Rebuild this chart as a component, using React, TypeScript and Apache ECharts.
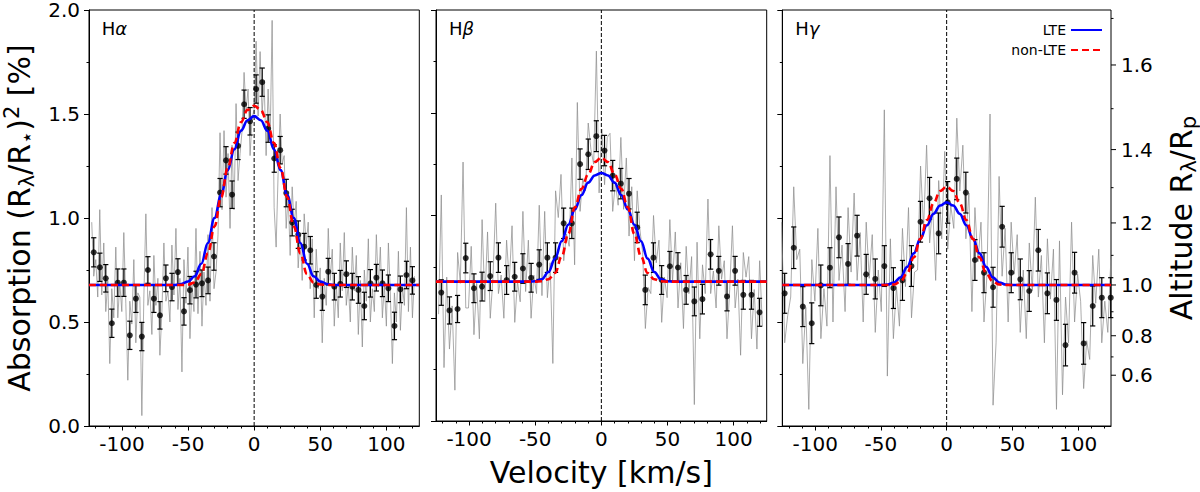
import React, { useEffect, useRef } from 'react';
import * as echarts from 'echarts';

// binned points (velocity km/s, absorption %, 1-sigma)
const binV1 = [-121.4, -116.8, -112.3, -107.7, -103.2, -98.6, -94.1, -89.5, -85.0, -80.4, -75.9, -71.3, -66.8, -62.2, -57.7, -53.1, -48.6, -44.0, -39.5, -34.9, -30.4, -25.8, -21.3, -16.7, -12.2, -7.6, -3.1, 1.5, 6.1, 10.6, 15.2, 19.7, 24.3, 28.8, 33.4, 37.9, 42.5, 47.0, 51.6, 56.1, 60.7, 65.2, 69.8, 74.3, 78.9, 83.4, 88.0, 92.5, 97.1, 101.6, 106.2, 110.7, 115.3, 119.8];
const binY1 = [0.835, 0.763, 0.71, 0.494, 0.689, 0.689, 0.436, 0.612, 0.43, 0.75, 0.612, 0.532, 0.71, 0.668, 0.74, 0.551, 0.653, 0.68, 0.686, 0.70, 0.815, 1.122, 1.277, 1.112, 1.347, 1.547, 1.465, 1.62, 1.653, 1.43, 1.286, 1.326, 1.12, 0.978, 0.92, 0.862, 0.845, 0.678, 0.622, 0.742, 0.67, 0.684, 0.73, 0.67, 0.654, 0.577, 0.686, 0.713, 0.686, 0.662, 0.481, 0.657, 0.726, 0.70];
const binE1 = [0.070, 0.068, 0.066, 0.068, 0.066, 0.066, 0.068, 0.066, 0.068, 0.064, 0.066, 0.066, 0.064, 0.066, 0.064, 0.066, 0.066, 0.064, 0.064, 0.064, 0.066, 0.068, 0.066, 0.066, 0.066, 0.068, 0.066, 0.068, 0.068, 0.066, 0.066, 0.066, 0.066, 0.064, 0.066, 0.064, 0.066, 0.064, 0.066, 0.064, 0.064, 0.064, 0.064, 0.064, 0.064, 0.066, 0.066, 0.064, 0.064, 0.064, 0.066, 0.064, 0.066, 0.066];

const binV2 = [-121.0, -114.8, -108.7, -102.5, -96.3, -90.2, -84.0, -77.8, -71.6, -65.5, -59.3, -53.1, -47.0, -40.8, -34.6, -28.5, -22.3, -16.1, -9.9, -3.8, 2.4, 8.6, 14.7, 20.9, 27.1, 33.2, 39.4, 45.6, 51.8, 57.9, 64.1, 70.3, 76.4, 82.6, 88.8, 95.0, 101.1, 107.3, 113.5, 119.6];
const binY2 = [0.625, 0.538, 0.545, 0.793, 0.646, 0.654, 0.705, 0.795, 0.686, 0.702, 0.742, 0.697, 0.761, 0.795, 0.795, 0.962, 0.962, 1.25, 1.298, 1.386, 1.316, 1.194, 1.155, 1.106, 0.942, 0.638, 0.795, 0.686, 0.753, 0.747, 0.638, 0.582, 0.593, 0.811, 0.731, 0.606, 0.731, 0.614, 0.614, 0.529];
const binE2 = [0.062, 0.066, 0.066, 0.072, 0.070, 0.070, 0.070, 0.072, 0.070, 0.070, 0.072, 0.070, 0.072, 0.072, 0.072, 0.074, 0.074, 0.074, 0.074, 0.075, 0.074, 0.074, 0.074, 0.074, 0.074, 0.072, 0.072, 0.070, 0.072, 0.072, 0.070, 0.070, 0.072, 0.072, 0.070, 0.070, 0.070, 0.070, 0.070, 0.068];

const binV3 = [-123.2, -116.3, -109.4, -102.6, -95.7, -88.8, -81.9, -75.0, -68.1, -61.2, -54.3, -47.4, -40.5, -33.6, -26.8, -19.9, -13.0, -6.1, 0.8, 7.7, 14.6, 21.5, 28.4, 35.3, 42.2, 49.1, 56.0, 62.8, 69.7, 76.6, 83.5, 90.4, 97.3, 104.2, 111.1, 118.0, 124.8];
const binY3 = [0.638, 0.857, 0.574, 0.494, 0.676, 0.761, 0.907, 0.779, 0.915, 0.729, 0.707, 0.769, 0.663, 0.70, 0.769, 0.982, 1.095, 0.926, 1.075, 1.188, 1.122, 0.798, 0.737, 0.667, 0.958, 0.737, 0.705, 0.649, 0.845, 0.638, 0.606, 0.389, 0.737, 0.397, 0.577, 0.617, 0.617];
const binE3 = [0.096, 0.100, 0.096, 0.098, 0.098, 0.096, 0.098, 0.098, 0.098, 0.096, 0.096, 0.098, 0.098, 0.096, 0.098, 0.098, 0.100, 0.098, 0.100, 0.100, 0.098, 0.098, 0.096, 0.096, 0.098, 0.096, 0.098, 0.098, 0.100, 0.098, 0.098, 0.100, 0.098, 0.100, 0.096, 0.096, 0.096];

// full-resolution spectra (grey), sampled on a regular velocity grid
const grayStart = [-122.92, -123.06, -125.5];
const grayStep = [1.517, 2.057, 2.297];
const gray1 = [
  0.98, 0.72, 0.80, 0.62, 1.04, 0.63, 0.88, 0.55, 0.70, 0.30, 0.66, 0.52, 0.86, 0.52, 0.69, 0.55, 0.93, 0.59,
  0.22, 0.60, 0.49, 0.80, 0.40, 0.64, 0.62, 0.05, 0.62, 1.02, 0.58, 0.65, 0.44, 0.82, 0.58, 0.71, 0.34, 0.55,
  0.88, 0.60, 0.65, 0.50, 0.87, 0.63, 0.95, 0.56, 0.71, 0.26, 0.80, 0.59, 0.86, 0.42, 0.68, 0.55, 0.95, 0.54,
  0.84, 0.48, 0.74, 0.58, 0.92, 0.60, 1.05, 0.66, 0.74, 0.92, 1.41, 1.04, 1.42, 1.10, 1.31, 0.95, 1.35, 1.04,
  1.55, 1.18, 1.31, 1.42, 1.70, 1.52, 1.62, 1.30, 1.48, 1.52, 1.85, 1.49, 1.80, 1.50, 1.66, 1.30, 1.62, 1.37,
  1.95, 1.05, 0.86, 1.22, 1.50, 1.26, 1.30, 0.95, 1.11, 0.82, 1.15, 0.96, 1.08, 0.76, 0.92, 0.70, 1.02, 0.87,
  0.98, 0.66, 0.90, 0.52, 0.85, 0.66, 0.76, 0.40, 0.71, 0.58, 0.95, 0.70, 0.85, 0.48, 0.68, 0.52, 0.88, 0.65,
  0.93, 0.58, 0.68, 0.50, 0.86, 0.65, 0.82, 0.44, 0.70, 0.38, 0.75, 0.60, 0.90, 0.50, 0.66, 0.55, 0.92, 0.67,
  0.86, 0.52, 0.68, 0.48, 0.88, 0.63, 0.30, 0.64, 0.50, 0.84, 0.46, 0.67, 0.58, 1.05, 0.55, 0.86, 0.52, 0.72,
];
const gray2 = [
  0.52, 1.10, 0.26, 0.70, 0.35, 0.56, 0.15, 0.82, 0.67, 1.26, 0.55, 0.55, 0.85, 0.42, 0.67, 0.40, 0.98, 0.58,
  0.92, 0.50, 0.70, 1.06, 0.62, 0.71, 0.50, 0.88, 0.68, 0.95, 0.48, 0.68, 0.58, 1.02, 0.63, 0.88, 0.50, 0.71,
  0.62, 1.05, 0.61, 1.02, 0.60, 0.77, 0.28, 1.12, 0.99, 1.20, 0.78, 0.91, 0.85, 1.28, 0.76, 1.55, 1.02, 1.18,
  1.12, 1.45, 1.32, 1.25, 1.80, 1.11, 1.42, 1.15, 1.38, 1.40, 1.02, 1.16, 1.05, 1.38, 1.03, 1.28, 0.90, 1.14,
  0.78, 1.12, 0.93, 0.82, 0.45, 0.65, 0.62, 1.00, 0.77, 0.88, 0.48, 0.70, 0.60, 0.98, 0.68, 0.92, 0.55, 0.77,
  0.45, 0.85, 0.62, 0.80, 0.08, 0.87, 0.40, 0.76, 0.62, 1.08, 0.62, 0.73, 0.55, 0.95, 0.69, 0.78, 0.40, 0.64,
  0.95, 0.55, 0.69, 0.32, 0.82, 0.70, 0.80, 0.40, 0.64, 0.35, 0.78, 0.46,
];
const gray3 = [
  0.98, 0.40, 0.53, 0.62, 1.15, 0.80, 0.85, 0.30, 0.57, 0.08, 0.80, 0.60, 0.95, 0.42, 0.66, 0.48, 1.30, 0.50,
  1.15, 0.70, 0.87, 0.55, 1.05, 0.74, 1.12, 0.70, 0.93, 0.50, 0.98, 0.71, 0.92, 0.45, 0.75, 0.55, 1.52, 0.24,
  0.90, 0.42, 0.67, 0.48, 0.95, 0.67, 1.05, 0.52, 0.74, 0.75, 1.25, 0.95, 1.35, 0.88, 1.06, 0.70, 1.18, 0.90,
  1.32, 0.85, 1.06, 0.95, 1.48, 1.13, 1.35, 0.90, 1.12, 0.55, 1.05, 0.79, 0.98, 0.50, 0.73, 1.50, 0.10, 0.40,
  1.20, 0.72, 0.95, 0.50, 0.98, 0.73, 0.92, 0.45, 0.75, 0.42, 0.88, 0.65, 1.10, 0.62, 0.82, 0.40, 0.90, 0.61,
  0.85, 0.08, 0.89, 0.15, 0.62, 0.40, 0.98, 0.50, 0.73, 0.60, 0.18, 0.41, 0.32, 0.82, 0.59, 0.85, 0.40, 0.60,
  0.45, 0.80, 0.60,
];

// model curves
const curveV = [-125, -60, -55, -50, -45, -40, -35, -30, -25, -20, -15, -10, -5, 0, 5, 10, 15, 20, 25, 30, 35, 40, 45, 50, 55, 60, 125];
const lte1 = [0.678, 0.678, 0.683, 0.695, 0.72, 0.78, 0.88, 1.00, 1.11, 1.23, 1.33, 1.42, 1.47, 1.49, 1.47, 1.42, 1.33, 1.23, 1.11, 1.00, 0.88, 0.78, 0.72, 0.695, 0.683, 0.678, 0.678];
const nlte1 = [0.678, 0.678, 0.678, 0.68, 0.69, 0.73, 0.83, 0.96, 1.10, 1.24, 1.36, 1.46, 1.52, 1.54, 1.52, 1.46, 1.36, 1.24, 1.10, 0.96, 0.83, 0.73, 0.69, 0.68, 0.678, 0.678, 0.678];
const lte2 = [0.678, 0.678, 0.678, 0.68, 0.69, 0.725, 0.79, 0.875, 0.955, 1.03, 1.10, 1.16, 1.195, 1.207, 1.195, 1.16, 1.10, 1.03, 0.955, 0.875, 0.79, 0.725, 0.69, 0.68, 0.678, 0.678, 0.678];
const nlte2 = [0.678, 0.678, 0.678, 0.678, 0.68, 0.69, 0.72, 0.80, 0.91, 1.04, 1.13, 1.20, 1.26, 1.282, 1.26, 1.20, 1.13, 1.04, 0.91, 0.80, 0.72, 0.69, 0.68, 0.678, 0.678, 0.678, 0.678];
const lte3 = [0.678, 0.678, 0.678, 0.678, 0.68, 0.69, 0.715, 0.765, 0.83, 0.90, 0.965, 1.02, 1.06, 1.075, 1.06, 1.02, 0.965, 0.90, 0.83, 0.765, 0.715, 0.69, 0.68, 0.678, 0.678, 0.678, 0.678];
const nlte3 = [0.678, 0.678, 0.678, 0.678, 0.678, 0.68, 0.695, 0.735, 0.81, 0.90, 0.99, 1.07, 1.13, 1.151, 1.13, 1.07, 0.99, 0.90, 0.81, 0.735, 0.695, 0.68, 0.678, 0.678, 0.678, 0.678, 0.678];

const panelNames = ['α', 'β', 'γ'];
const xTicks = [-100, -50, 0, 50, 100];
// right axis: altitude in planetary radii, absorption = base * alt^2
const altMajor = [0.6, 0.8, 1.0, 1.2, 1.4, 1.6];
const altMinor = [0.7, 0.9, 1.1, 1.3, 1.5, 1.7];
const absorptionBase = 0.678;

const FONT = 'DejaVu Sans';

const App: React.FC = () => {
  const chartRef = useRef<HTMLDivElement>(null);

  useEffect(() => {
    if (!chartRef.current) return;
    const chart = echarts.init(chartRef.current, undefined, { renderer: 'svg' });

    const bins = [[binV1, binY1, binE1], [binV2, binY2, binE2], [binV3, binY3, binE3]];
    const grays = [gray1, gray2, gray3];
    const ltes = [lte1, lte2, lte3];
    const nltes = [nlte1, nlte2, nlte3];
    const lefts = [88.7, 436, 782.3];
    const widths = [330.6, 330.7, 331];

    const grids = lefts.map((l, i) => ({
      left: l, top: 10, width: widths[i], height: 416,
      show: true, borderColor: '#000', borderWidth: 1, backgroundColor: 'transparent'
    }));

    const tickStyle = { color: '#000', width: 1 };

    const xAxes = [0, 1, 2].map(i => ({
      type: 'value', gridIndex: i, min: -125, max: 125, splitNumber: 5,
      axisLine: { show: true, onZero: false, lineStyle: tickStyle },
      axisTick: { show: true, length: 4.5, lineStyle: tickStyle, customValues: xTicks },
      minorTick: { show: true, splitNumber: 5, length: 2.5, lineStyle: tickStyle },
      axisLabel: { customValues: xTicks, fontSize: 20, color: '#000', fontFamily: FONT, margin: 8 },
      splitLine: { show: false },
      name: i === 1 ? 'Velocity [km/s]' : '',
      nameLocation: 'middle', nameGap: 36,
      nameTextStyle: { fontSize: 30, color: '#000', fontFamily: FONT }
    }));

    const yAxes: any[] = [0, 1, 2].map(i => ({
      type: 'value', gridIndex: i, min: 0, max: 2, interval: 0.5,
      axisLine: { show: true, onZero: false, lineStyle: tickStyle },
      axisTick: { show: true, length: 5, lineStyle: tickStyle },
      minorTick: { show: true, splitNumber: 2, length: 2.5, lineStyle: tickStyle },
      axisLabel: {
        show: i === 0, fontSize: 20, lineHeight: 18, color: '#000', fontFamily: FONT, margin: 9,
        formatter: (v: number) => v.toFixed(1)
      },
      splitLine: { show: false },
      name: i === 0 ? '{n|Absorption (R}{s|λ}{n|/R}{s|⋆}{n|)}{p|2}{n| [%]}' : '',
      nameLocation: 'middle', nameGap: 52, nameRotate: 90,
      nameTextStyle: {
        fontFamily: FONT, color: '#000',
        rich: {
          n: { fontSize: 30, fontFamily: FONT, color: '#000', lineHeight: 36 },
          s: { fontSize: 21, fontFamily: FONT, color: '#000', lineHeight: 22, verticalAlign: 'bottom' },
          p: { fontSize: 21, fontFamily: FONT, color: '#000', lineHeight: 22, verticalAlign: 'top' }
        }
      }
    }));
    // altitude axis on the right of the third panel
    yAxes.push({
      type: 'value', gridIndex: 2, position: 'right', min: 0, max: 2,
      axisLine: { show: false }, axisTick: { show: false }, axisLabel: { show: false },
      splitLine: { show: false },
      name: '{n|Altitude R}{s|λ}{n|/R}{s|p}',
      nameLocation: 'middle', nameGap: 52, nameRotate: 90,
      nameTextStyle: {
        fontFamily: FONT, color: '#000',
        rich: {
          n: { fontSize: 30, fontFamily: FONT, color: '#000', lineHeight: 36 },
          s: { fontSize: 21, fontFamily: FONT, color: '#000', lineHeight: 22, verticalAlign: 'bottom' }
        }
      }
    });

    const series: any[] = [];
    [0, 1, 2].forEach(i => {
      const [bv, by, be] = bins[i];
      series.push({
        type: 'line', xAxisIndex: i, yAxisIndex: i, silent: true, symbol: 'none', z: 1,
        data: grays[i].map((y, j) => [grayStart[i] + j * grayStep[i], y]),
        lineStyle: { color: 'rgba(140,140,140,0.72)', width: 1 }
      });
      series.push({
        type: 'line', xAxisIndex: i, yAxisIndex: i, silent: true, symbol: 'none', z: 2,
        data: [[0, 0], [0, 2]],
        lineStyle: { color: '#000', width: 1, type: [4, 2] }
      });
      series.push({
        type: 'custom', xAxisIndex: i, yAxisIndex: i, silent: true, z: 3,
        data: bv.map((v, j) => [v, by[j], be[j]]),
        renderItem: (_p: any, api: any) => {
          const x = api.value(0), y = api.value(1), e = api.value(2);
          const t = api.coord([x, y + e]);
          const b = api.coord([x, y - e]);
          const st = { stroke: '#000', lineWidth: 1.2 };
          return {
            type: 'group', children: [
              { type: 'line', shape: { x1: t[0], y1: t[1], x2: b[0], y2: b[1] }, style: st },
              { type: 'line', shape: { x1: t[0] - 2.6, y1: t[1], x2: t[0] + 2.6, y2: t[1] }, style: st },
              { type: 'line', shape: { x1: b[0] - 2.6, y1: b[1], x2: b[0] + 2.6, y2: b[1] }, style: st }
            ]
          };
        }
      });
      series.push({
        type: 'scatter', xAxisIndex: i, yAxisIndex: i, silent: true, z: 4,
        symbolSize: 6, itemStyle: { color: '#000' },
        data: bv.map((v, j) => [v, by[j]])
      });
      series.push({
        name: 'LTE', type: 'line', xAxisIndex: i, yAxisIndex: i, silent: true, z: 5,
        symbol: 'none', smooth: 0.4, smoothMonotone: 'x',
        data: curveV.map((v, j) => [v, ltes[i][j]]),
        lineStyle: { color: '#0000ff', width: 2.6 }, itemStyle: { color: '#0000ff' }
      });
      series.push({
        name: 'non-LTE', type: 'line', xAxisIndex: i, yAxisIndex: i, silent: true, z: 6,
        symbol: 'none', smooth: 0.4, smoothMonotone: 'x',
        data: curveV.map((v, j) => [v, nltes[i][j]]),
        lineStyle: { color: '#ff0000', width: 2.6, type: [7, 4] }, itemStyle: { color: '#ff0000' }
      });
    });

    // ticks and labels of the altitude axis
    series.push({
      type: 'custom', xAxisIndex: 2, yAxisIndex: 3, silent: true, clip: false, z: 7,
      data: altMajor.map(a => [a, 1]).concat(altMinor.map(a => [a, 0])),
      renderItem: (_p: any, api: any) => {
        const a = api.value(0), major = api.value(1) === 1;
        const p = api.coord([125, absorptionBase * a * a]);
        const children: any[] = [
          { type: 'line', shape: { x1: p[0], y1: p[1], x2: p[0] + (major ? 5 : 2.5), y2: p[1] }, style: { stroke: '#000', lineWidth: 1 } }
        ];
        if (major) {
          children.push({
            type: 'text', x: p[0] + 10, y: p[1],
            style: { text: a.toFixed(1), fontSize: 20, fontFamily: FONT, fill: '#000', verticalAlign: 'middle', align: 'left' }
          });
        }
        return { type: 'group', children };
      }
    });

    const titles = lefts.map((l, i) => ({
      text: `{h|H}{g|${panelNames[i]}}`, left: l + 8, top: 14,
      textStyle: {
        fontWeight: 'normal',
        rich: {
          h: { fontSize: 18, fontFamily: FONT, color: '#000', fontWeight: 'normal' },
          g: { fontSize: 18, fontFamily: FONT, color: '#000', fontWeight: 'normal', fontStyle: 'italic' }
        }
      }
    }));

    const option: any = {
      animation: false,
      textStyle: { fontFamily: FONT },
      title: titles,
      legend: {
        data: ['LTE', 'non-LTE'], orient: 'vertical', right: 92, top: 18,
        align: 'right', itemWidth: 31, itemHeight: 14, itemGap: 6,
        itemStyle: { opacity: 0 },
        textStyle: { fontSize: 14, color: '#000', fontFamily: FONT }
      },
      grid: grids,
      xAxis: xAxes,
      yAxis: yAxes,
      series
    };

    chart.setOption(option);
    return () => chart.dispose();
  }, []);

  return <div ref={chartRef} style={{ position: 'fixed', left: 0, top: 0, width: 1200, height: 492, background: '#fff' }} />;
};

export default App;
